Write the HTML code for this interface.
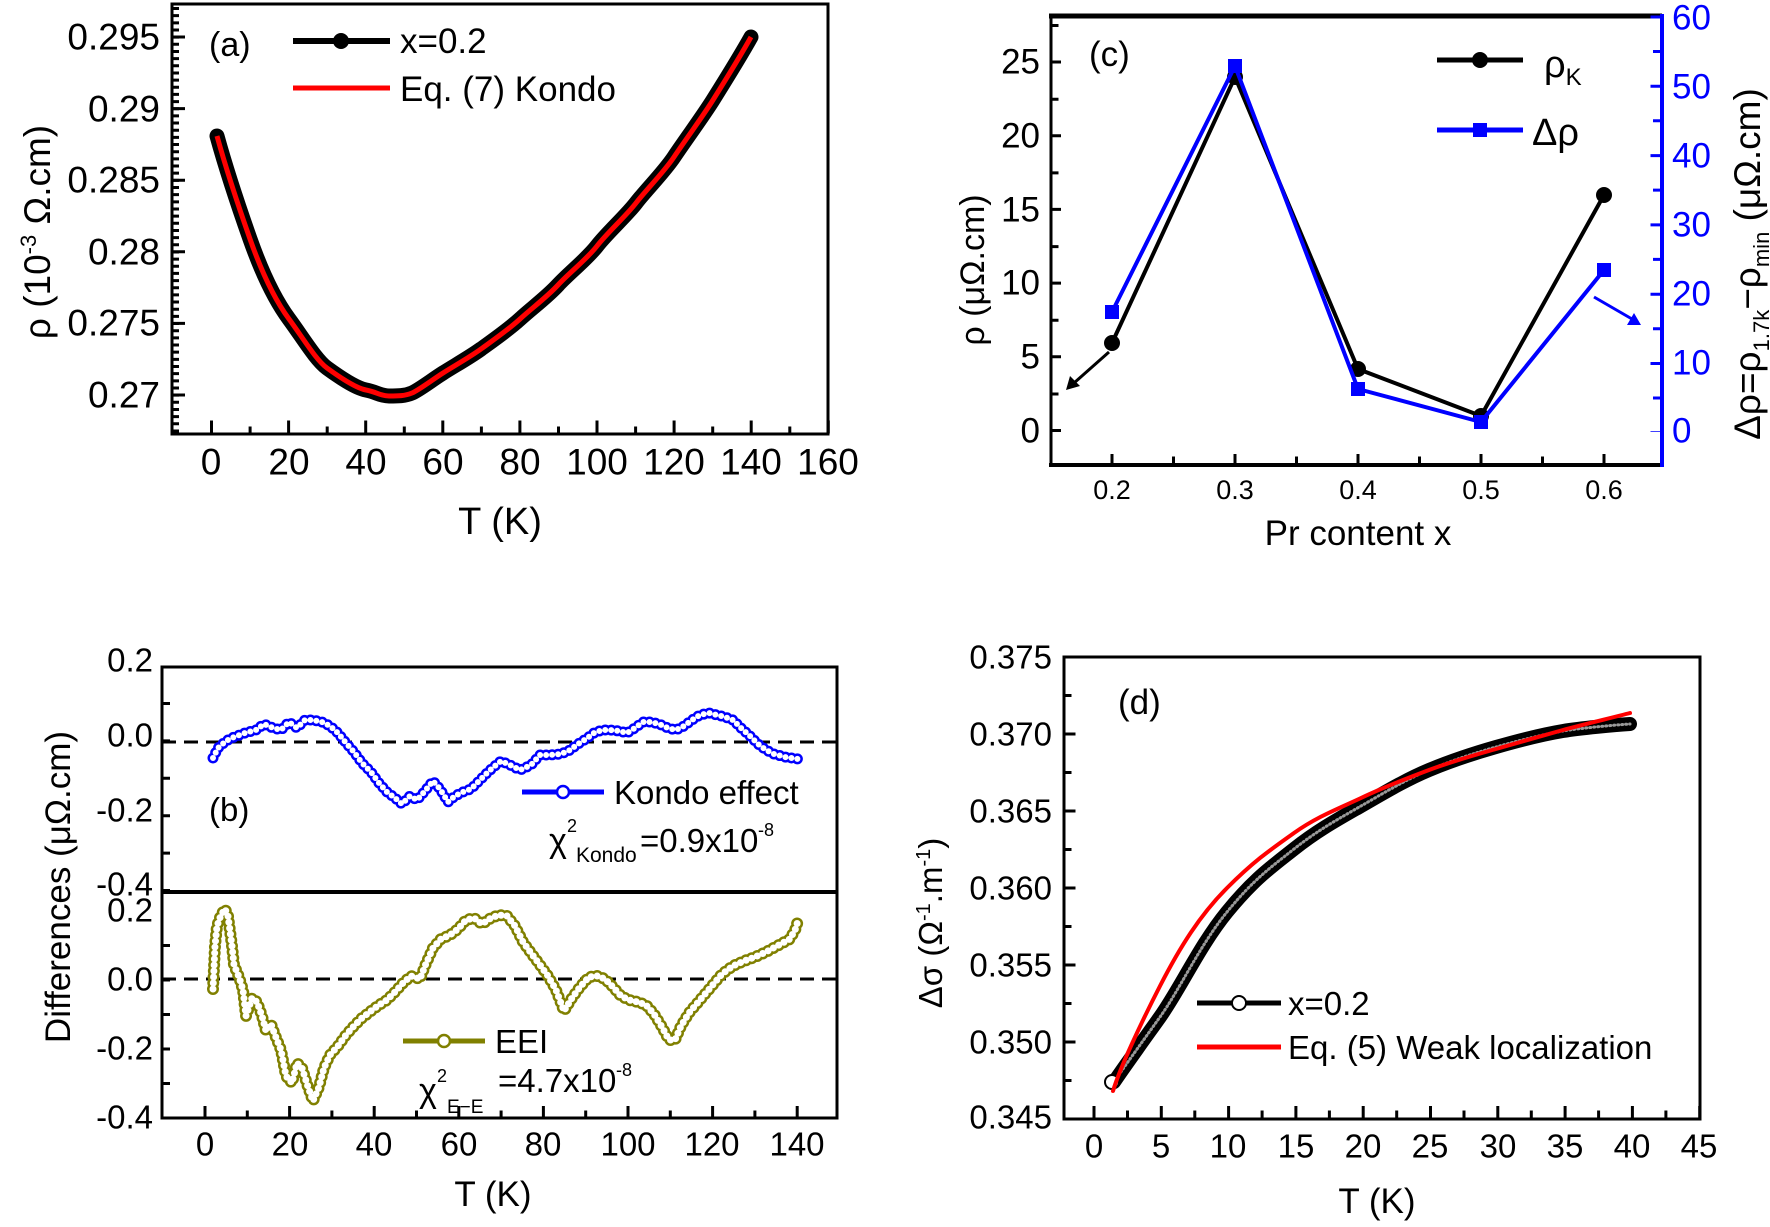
<!DOCTYPE html>
<html><head><meta charset="utf-8"><style>
html,body{margin:0;padding:0;background:#fff}
svg{display:block}
text{font-family:"Liberation Sans",sans-serif;fill:#000}
</style></head><body>
<svg width="1770" height="1227" viewBox="0 0 1770 1227" xmlns="http://www.w3.org/2000/svg">
<!-- ============ PANEL A ============ -->
<g>
<rect x="172" y="4" width="656" height="430" fill="none" stroke="#000" stroke-width="3"/>
<line x1="210" y1="427" x2="830" y2="427" stroke="#000" stroke-width="13" stroke-dasharray="3 74.1"/>
<line x1="248.6" y1="430" x2="830" y2="430" stroke="#000" stroke-width="7" stroke-dasharray="3 74.1"/>
<line x1="179" y1="35.5" x2="179" y2="434" stroke="#000" stroke-width="12" stroke-dasharray="3 68.6"/>
<line x1="176" y1="7" x2="176" y2="434" stroke="#000" stroke-width="6" stroke-dasharray="3 4.16"/>
<g font-size="37" text-anchor="end" dominant-baseline="central">
<text x="160" y="37">0.295</text><text x="160" y="109">0.29</text><text x="160" y="180">0.285</text>
<text x="160" y="252">0.28</text><text x="160" y="323">0.275</text><text x="160" y="395">0.27</text>
</g>
<g font-size="37" text-anchor="middle" dominant-baseline="central">
<text x="211" y="462">0</text><text x="289" y="462">20</text><text x="366" y="462">40</text><text x="443" y="462">60</text>
<text x="520" y="462">80</text><text x="597" y="462">100</text><text x="674" y="462">120</text><text x="751" y="462">140</text><text x="828" y="462">160</text>
</g>
<text x="500" y="534" font-size="38" text-anchor="middle">T (K)</text>
<text transform="translate(50,232) rotate(-90)" font-size="37" text-anchor="middle">ρ (10<tspan font-size="22" dy="-14">-3</tspan><tspan dy="14"> Ω.cm)</tspan></text>
<path fill="none" stroke="#000" stroke-width="15" stroke-linejoin="round" stroke-linecap="round" d="M217,136 C225,165 238,205 250,239 S275,300 289,319 S316,360 327,368 S355,388 366,390 S380,396 389,396 S405,396 412,393 S432,380 443,373 S470,357 481,349 S508,330 520,319 S547,297 558,285 S587,259 597,246 S626,216 636,203 S664,172 674,157 S703,116 713,100 S741,55 751,37"/>
<path fill="none" stroke="#f00" stroke-width="5" stroke-linejoin="round" d="M217,136 C225,165 238,205 250,239 S275,300 289,319 S316,360 327,368 S355,388 366,390 S380,396 389,396 S405,396 412,393 S432,380 443,373 S470,357 481,349 S508,330 520,319 S547,297 558,285 S587,259 597,246 S626,216 636,203 S664,172 674,157 S703,116 713,100 S741,55 751,37"/>
<text x="209" y="56" font-size="34">(a)</text>
<line x1="293" y1="41" x2="390" y2="41" stroke="#000" stroke-width="6"/>
<circle cx="341" cy="41" r="8" fill="#000"/>
<text x="400" y="53" font-size="35">x=0.2</text>
<line x1="293" y1="88" x2="390" y2="88" stroke="#f00" stroke-width="5"/>
<text x="400" y="101" font-size="35">Eq. (7) Kondo</text>
</g>

<!-- ============ PANEL C ============ -->
<g>
<line x1="1051" y1="16" x2="1051" y2="465" stroke="#000" stroke-width="3"/>
<line x1="1049" y1="465" x2="1662" y2="465" stroke="#000" stroke-width="4"/>
<line x1="1049" y1="16" x2="1662" y2="16" stroke="#000" stroke-width="5"/>
<line x1="1662" y1="14" x2="1662" y2="467" stroke="#00f" stroke-width="4"/>
<line x1="1056" y1="60.5" x2="1056" y2="465" stroke="#000" stroke-width="10" stroke-dasharray="3 70.7"/>
<line x1="1055" y1="24" x2="1055" y2="465" stroke="#000" stroke-width="7" stroke-dasharray="3 70.7"/>
<line x1="1656" y1="15.5" x2="1656" y2="432" stroke="#00f" stroke-width="11" stroke-dasharray="3 66.3"/>
<line x1="1657" y1="50" x2="1657" y2="432" stroke="#00f" stroke-width="8" stroke-dasharray="3 66.3"/>
<line x1="1110.5" y1="459" x2="1662" y2="459" stroke="#000" stroke-width="10" stroke-dasharray="3 120"/>
<line x1="1172" y1="460" x2="1662" y2="460" stroke="#000" stroke-width="7" stroke-dasharray="3 120"/>
<g font-size="35" text-anchor="end" dominant-baseline="central">
<text x="1040" y="62">25</text><text x="1040" y="136">20</text><text x="1040" y="210">15</text>
<text x="1040" y="283">10</text><text x="1040" y="357">5</text><text x="1040" y="431">0</text>
</g>
<g font-size="35" dominant-baseline="central">
<text x="1672" y="18" fill="#00f" style="fill:#00f">60</text><text x="1672" y="87" style="fill:#00f">50</text><text x="1672" y="156" style="fill:#00f">40</text>
<text x="1672" y="225" style="fill:#00f">30</text><text x="1672" y="294" style="fill:#00f">20</text><text x="1672" y="363" style="fill:#00f">10</text><text x="1672" y="431" style="fill:#00f">0</text>
</g>
<g font-size="27" text-anchor="middle" dominant-baseline="central">
<text x="1112" y="490">0.2</text><text x="1235" y="490">0.3</text><text x="1358" y="490">0.4</text><text x="1481" y="490">0.5</text><text x="1604" y="490">0.6</text>
</g>
<text x="1358" y="545" font-size="35" text-anchor="middle">Pr content x</text>
<text transform="translate(984,270) rotate(-90)" font-size="34" text-anchor="middle">ρ (μΩ.cm)</text>
<text transform="translate(1760,264) rotate(-90)" font-size="37" text-anchor="middle">Δρ=ρ<tspan font-size="22" dy="9">1.7k</tspan><tspan dy="-9">−ρ</tspan><tspan font-size="22" dy="9">min</tspan><tspan dy="-9"> (μΩ.cm)</tspan></text>
<polyline fill="none" stroke="#000" stroke-width="4" points="1112,343 1235,77 1358,369 1481,416 1604,195"/>
<g fill="#000"><circle cx="1112" cy="343" r="8"/><circle cx="1235" cy="77" r="8"/><circle cx="1358" cy="369" r="8"/><circle cx="1481" cy="416" r="8"/><circle cx="1604" cy="195" r="8"/></g>
<polyline fill="none" stroke="#00f" stroke-width="4" points="1112,312 1235,66 1358,389 1481,422 1604,270"/>
<g fill="#00f"><rect x="1105" y="305" width="14" height="14"/><rect x="1228" y="59" width="14" height="14"/><rect x="1351" y="382" width="14" height="14"/><rect x="1474" y="415" width="14" height="14"/><rect x="1597" y="263" width="14" height="14"/></g>
<line x1="1109" y1="352" x2="1074" y2="383" stroke="#000" stroke-width="3"/>
<polygon points="1066,390 1070,376 1080,386" fill="#000"/>
<line x1="1594" y1="297" x2="1632" y2="319" stroke="#00f" stroke-width="3"/>
<polygon points="1641,325 1627,325 1634,313" fill="#00f"/>
<text x="1089" y="66" font-size="35">(c)</text>
<line x1="1437" y1="60" x2="1523" y2="60" stroke="#000" stroke-width="5"/>
<circle cx="1480" cy="60" r="8" fill="#000"/>
<text x="1544" y="77" font-size="38">ρ<tspan font-size="24" dy="8">K</tspan></text>
<line x1="1437" y1="130" x2="1523" y2="130" stroke="#00f" stroke-width="5"/>
<rect x="1473" y="123" width="14" height="14" fill="#00f"/>
<text x="1532" y="145" font-size="38">Δρ</text>
</g>

<!-- ============ PANEL B ============ -->
<g>
<rect x="162" y="667" width="675" height="451" fill="none" stroke="#000" stroke-width="3"/>
<line x1="162" y1="892" x2="837" y2="892" stroke="#000" stroke-width="4"/>
<line x1="203.5" y1="1112" x2="837" y2="1112" stroke="#000" stroke-width="12" stroke-dasharray="3 81.6"/>
<line x1="245.8" y1="1114" x2="837" y2="1114" stroke="#000" stroke-width="7" stroke-dasharray="3 81.6"/>
<line x1="166" y1="702" x2="166" y2="892" stroke="#000" stroke-width="8" stroke-dasharray="3 34.4"/>
<line x1="166" y1="944" x2="166" y2="1118" stroke="#000" stroke-width="8" stroke-dasharray="3 31.5"/>
<line x1="162" y1="742" x2="837" y2="742" stroke="#000" stroke-width="3" stroke-dasharray="14 8"/>
<line x1="162" y1="979" x2="837" y2="979" stroke="#000" stroke-width="3" stroke-dasharray="14 8"/>
<g font-size="33" text-anchor="end" dominant-baseline="central">
<text x="153" y="660">0.2</text><text x="153" y="735">0.0</text><text x="153" y="810">-0.2</text><text x="153" y="884">-0.4</text>
<text x="153" y="910">0.2</text><text x="153" y="979">0.0</text><text x="153" y="1048">-0.2</text><text x="153" y="1117">-0.4</text>
</g>
<g font-size="33" text-anchor="middle" dominant-baseline="central">
<text x="205" y="1144">0</text><text x="290" y="1144">20</text><text x="374" y="1144">40</text><text x="459" y="1144">60</text>
<text x="543" y="1144">80</text><text x="628" y="1144">100</text><text x="712" y="1144">120</text><text x="797" y="1144">140</text>
</g>
<text x="493" y="1206" font-size="35" text-anchor="middle">T (K)</text>
<text transform="translate(70,887) rotate(-90)" font-size="35" text-anchor="middle">Differences (μΩ.cm)</text>
<g fill="none" stroke-linecap="round" stroke-linejoin="round">
<polyline stroke="#00f" stroke-width="11" stroke-dasharray="0 6" points="213,758 218,748 226,741 234,737 245,733 256,730 264,724 273,728 281,730 289,722 297,728 305,720 313,720 322,722 330,726 338,733 346,743 354,752 362,763 371,772 379,783 387,792 395,798 402,804 410,796 417,800 425,791 433,781 440,789 448,802 455,796 463,792 471,789 480,780 488,772 496,765 501,761 510,765 520,770 531,765 540,755 550,755 561,754 570,750 578,744 586,739 594,733 602,730 610,730 619,731 627,733 635,728 643,722 651,722 659,724 668,728 676,730 684,726 692,720 700,715 709,713 717,715 725,717 733,720 741,728 749,735 758,744 766,750 774,754 785,757 798,759"/>
<polyline stroke="#fff" stroke-width="6" stroke-dasharray="0 6" points="213,758 218,748 226,741 234,737 245,733 256,730 264,724 273,728 281,730 289,722 297,728 305,720 313,720 322,722 330,726 338,733 346,743 354,752 362,763 371,772 379,783 387,792 395,798 402,804 410,796 417,800 425,791 433,781 440,789 448,802 455,796 463,792 471,789 480,780 488,772 496,765 501,761 510,765 520,770 531,765 540,755 550,755 561,754 570,750 578,744 586,739 594,733 602,730 610,730 619,731 627,733 635,728 643,722 651,722 659,724 668,728 676,730 684,726 692,720 700,715 709,713 717,715 725,717 733,720 741,728 749,735 758,744 766,750 774,754 785,757 798,759"/>
<polyline stroke="#808000" stroke-width="12" stroke-dasharray="0 6" points="213,989 214,968 215,946 217,926 221,915 225,909 228,916 230,931 232,946 234,965 239,977 243,990 246,1016 252,998 257,1002 262,1016 266,1031 271,1024 275,1035 281,1050 286,1076 292,1083 297,1063 302,1068 308,1087 313,1101 319,1087 324,1068 330,1055 338,1046 346,1035 354,1026 362,1018 371,1011 379,1005 387,1000 395,992 403,983 411,976 420,979 425,966 433,948 441,939 450,935 458,929 466,920 474,918 482,924 491,918 499,915 507,916 515,926 523,942 531,953 540,965 548,976 556,990 564,1011 572,998 580,987 589,977 597,976 605,979 613,987 621,996 629,1000 638,1002 646,1005 654,1014 662,1027 669,1040 675,1040 681,1026 689,1013 700,1000 711,987 722,974 733,966 744,961 755,957 766,952 777,946 790,939 796,928 798,920"/>
<polyline stroke="#fff" stroke-width="7" stroke-dasharray="0 6" points="213,989 214,968 215,946 217,926 221,915 225,909 228,916 230,931 232,946 234,965 239,977 243,990 246,1016 252,998 257,1002 262,1016 266,1031 271,1024 275,1035 281,1050 286,1076 292,1083 297,1063 302,1068 308,1087 313,1101 319,1087 324,1068 330,1055 338,1046 346,1035 354,1026 362,1018 371,1011 379,1005 387,1000 395,992 403,983 411,976 420,979 425,966 433,948 441,939 450,935 458,929 466,920 474,918 482,924 491,918 499,915 507,916 515,926 523,942 531,953 540,965 548,976 556,990 564,1011 572,998 580,987 589,977 597,976 605,979 613,987 621,996 629,1000 638,1002 646,1005 654,1014 662,1027 669,1040 675,1040 681,1026 689,1013 700,1000 711,987 722,974 733,966 744,961 755,957 766,952 777,946 790,939 796,928 798,920"/>
</g>
<text x="209" y="821" font-size="33">(b)</text>
<line x1="522" y1="792" x2="604" y2="792" stroke="#00f" stroke-width="5"/>
<circle cx="563" cy="792" r="6" fill="#fff" stroke="#00f" stroke-width="2.5"/>
<text x="614" y="804" font-size="33">Kondo effect</text>
<text x="549" y="852" font-size="34" font-family="Liberation Serif">χ</text>
<text x="567" y="832" font-size="18">2</text>
<text x="576" y="862" font-size="21">Kondo</text>
<text x="640" y="852" font-size="33">=0.9x10</text>
<text x="758" y="836" font-size="18">-8</text>
<line x1="403" y1="1041" x2="485" y2="1041" stroke="#808000" stroke-width="5"/>
<circle cx="444" cy="1041" r="6" fill="#fff" stroke="#808000" stroke-width="2.5"/>
<text x="495" y="1053" font-size="33">EEI</text>
<text x="419" y="1102" font-size="34" font-family="Liberation Serif">χ</text>
<text x="437" y="1082" font-size="18">2</text>
<text x="447" y="1113" font-size="19" font-family="Liberation Serif">E−E</text>
<text x="498" y="1092" font-size="33">=4.7x10</text>
<text x="616" y="1076" font-size="18">-8</text>
</g>

<!-- ============ PANEL D ============ -->
<g>
<rect x="1064" y="657" width="636" height="462" fill="none" stroke="#000" stroke-width="3"/>
<line x1="1092.5" y1="1112" x2="1700" y2="1112" stroke="#000" stroke-width="12" stroke-dasharray="3 64.3"/>
<line x1="1126" y1="1114" x2="1700" y2="1114" stroke="#000" stroke-width="7" stroke-dasharray="3 64.3"/>
<line x1="1070" y1="655.5" x2="1070" y2="1119" stroke="#000" stroke-width="11" stroke-dasharray="3 74"/>
<line x1="1068" y1="694" x2="1068" y2="1119" stroke="#000" stroke-width="7" stroke-dasharray="3 74"/>
<g font-size="33" text-anchor="end" dominant-baseline="central">
<text x="1052" y="657">0.375</text><text x="1052" y="734">0.370</text><text x="1052" y="811">0.365</text><text x="1052" y="888">0.360</text>
<text x="1052" y="965">0.355</text><text x="1052" y="1042">0.350</text><text x="1052" y="1117">0.345</text>
</g>
<g font-size="33" text-anchor="middle" dominant-baseline="central">
<text x="1094" y="1146">0</text><text x="1161" y="1146">5</text><text x="1228" y="1146">10</text><text x="1296" y="1146">15</text>
<text x="1363" y="1146">20</text><text x="1430" y="1146">25</text><text x="1498" y="1146">30</text><text x="1565" y="1146">35</text>
<text x="1632" y="1146">40</text><text x="1699" y="1146">45</text>
</g>
<text x="1377" y="1213" font-size="35" text-anchor="middle">T (K)</text>
<text transform="translate(942,923) rotate(-90)" font-size="33" text-anchor="middle">Δσ (Ω<tspan font-size="20" dy="-12">-1</tspan><tspan dy="12">.m</tspan><tspan font-size="20" dy="-12">-1</tspan><tspan dy="12">)</tspan></text>
<g fill="none" stroke-linecap="round" stroke-linejoin="round">
<path stroke="#000" stroke-width="14" d="M1114,1082 C1122,1070 1140,1045 1160,1017 S1200,945 1227,912 S1270,868 1294,849 S1340,818 1361,806 S1405,780 1429,770 S1475,753 1496,747 S1545,734 1563,731 S1615,725 1630,724"/>
<path stroke="#999" stroke-width="3" stroke-dasharray="1 3" d="M1114,1082 C1122,1070 1140,1045 1160,1017 S1200,945 1227,912 S1270,868 1294,849 S1340,818 1361,806 S1405,780 1429,770 S1475,753 1496,747 S1545,734 1563,731 S1615,725 1630,724"/>
<circle cx="1112" cy="1082" r="7" fill="#fff" stroke="#000" stroke-width="2"/>
<path stroke="#f00" stroke-width="4" d="M1113,1091 C1120,1068 1140,1025 1160,986 S1200,915 1227,888 S1270,850 1294,833 S1340,808 1361,798 S1405,779 1429,770 S1475,755 1496,749 S1545,735 1563,730 S1615,717 1630,713"/>
</g>
<text x="1118" y="714" font-size="35">(d)</text>
<line x1="1197" y1="1003" x2="1281" y2="1003" stroke="#000" stroke-width="5"/>
<circle cx="1239" cy="1003" r="7" fill="#fff" stroke="#000" stroke-width="2"/>
<text x="1288" y="1015" font-size="33">x=0.2</text>
<line x1="1197" y1="1047" x2="1281" y2="1047" stroke="#f00" stroke-width="5"/>
<text x="1288" y="1059" font-size="33">Eq. (5) Weak localization</text>
</g>
</svg>
</body></html>
